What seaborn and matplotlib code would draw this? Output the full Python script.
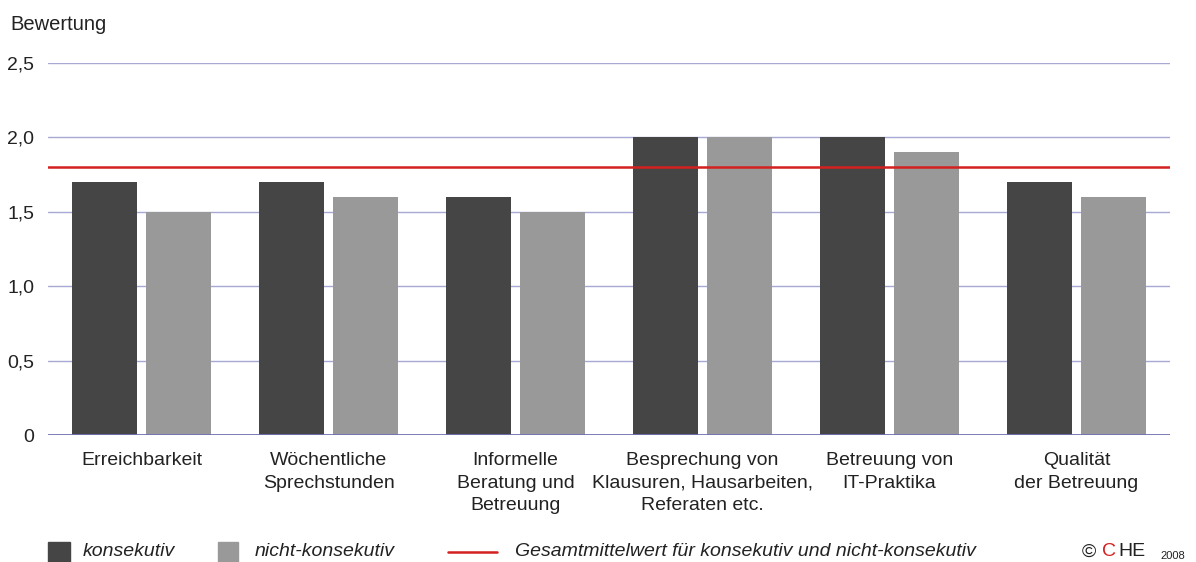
import pandas as pd
import matplotlib
matplotlib.use("Agg")
import matplotlib.pyplot as plt
import seaborn as sns
from matplotlib.patches import Rectangle
from matplotlib.lines import Line2D

# data
categories = [
    "Erreichbarkeit",
    "Wöchentliche\nSprechstunden",
    "Informelle\nBeratung und\nBetreuung",
    "Besprechung von\nKlausuren, Hausarbeiten,\nReferaten etc.",
    "Betreuung von\nIT-Praktika",
    "Qualität\nder Betreuung",
]
konsekutiv = [1.7, 1.7, 1.6, 2.0, 2.0, 1.7]
nicht_konsekutiv = [1.5, 1.6, 1.5, 2.0, 1.9, 1.6]
gesamtmittelwert = 1.8
series_names = ["konsekutiv", "nicht-konsekutiv"]
y_ticks = [0, 0.5, 1.0, 1.5, 2.0, 2.5]
y_ticklabels = ["0", "0,5", "1,0", "1,5", "2,0", "2,5"]

DARK = "#454545"
LIGHT = "#999999"
RED = "#d42020"
GRID = "#a8a8d4"
BASE = "#7070b4"
TXT = "#222222"

df = pd.DataFrame({
    "Kategorie": categories * 2,
    "Wert": konsekutiv + nicht_konsekutiv,
    "Typ": [series_names[0]] * len(categories) + [series_names[1]] * len(categories),
})

sns.set_style("white")
plt.rcParams["font.family"] = ["Liberation Sans", "DejaVu Sans"]

fig = plt.figure(figsize=(11.96, 5.62), dpi=100)
ax = fig.add_axes([48 / 1196, 1 - 435 / 562, (1170 - 48) / 1196, (435 - 63) / 562])

sns.barplot(data=df, x="Kategorie", y="Wert", hue="Typ",
            palette=[DARK, LIGHT], width=0.79, gap=0.11, linewidth=0,
            saturation=1, legend=False, ax=ax, zorder=3)

ax.set_ylim(0, 2.5)
ax.set_xlim(-0.5, len(categories) - 0.5)
ax.set_yticks(y_ticks)
ax.set_yticklabels(y_ticklabels)
for t in y_ticks[1:]:
    ax.axhline(t, color=GRID, lw=1, zorder=1)
ax.axhline(0, color=BASE, lw=2, zorder=4)
ax.axhline(gesamtmittelwert, color=RED, lw=1.8, zorder=5)

for s in ax.spines.values():
    s.set_visible(False)
ax.tick_params(axis="both", length=0, labelsize=14, colors=TXT)
ax.tick_params(axis="x", pad=12)
ax.tick_params(axis="y", pad=10)
for lbl in ax.get_xticklabels():
    lbl.set_linespacing(1.45)
ax.set_xlabel("")
ax.set_ylabel("")

fig.text(10 / 1196, 1 - 25 / 562, "Bewertung", fontsize=14.5, va="center", color=TXT)

# legend
ly = 1 - 552 / 562
fig.add_artist(Rectangle((48 / 1196, 0), 22 / 1196, 20 / 562,
                         transform=fig.transFigure, color=DARK))
fig.text(83 / 1196, ly, "konsekutiv", fontsize=14, style="italic", va="center", color=TXT)
fig.add_artist(Rectangle((218 / 1196, 0), 20 / 1196, 20 / 562,
                         transform=fig.transFigure, color=LIGHT))
fig.text(255 / 1196, ly, "nicht-konsekutiv", fontsize=14, style="italic", va="center", color=TXT)
fig.add_artist(Line2D([448 / 1196, 497 / 1196], [ly, ly], transform=fig.transFigure,
                      color=RED, lw=1.8))
fig.text(515 / 1196, ly, "Gesamtmittelwert für konsekutiv und nicht-konsekutiv",
         fontsize=14, style="italic", va="center", color=TXT)

# copyright
fig.text(1082 / 1196, ly, "©", fontsize=14, va="center", color=TXT)
fig.text(1102 / 1196, ly, "C", fontsize=14, va="center", color=RED)
fig.text(1118 / 1196, ly, "HE", fontsize=14, va="center", color=TXT)
fig.text(1160 / 1196, ly - 0.008, "2008", fontsize=8, va="center", color=TXT)

fig.savefig("out.png", dpi=100)
